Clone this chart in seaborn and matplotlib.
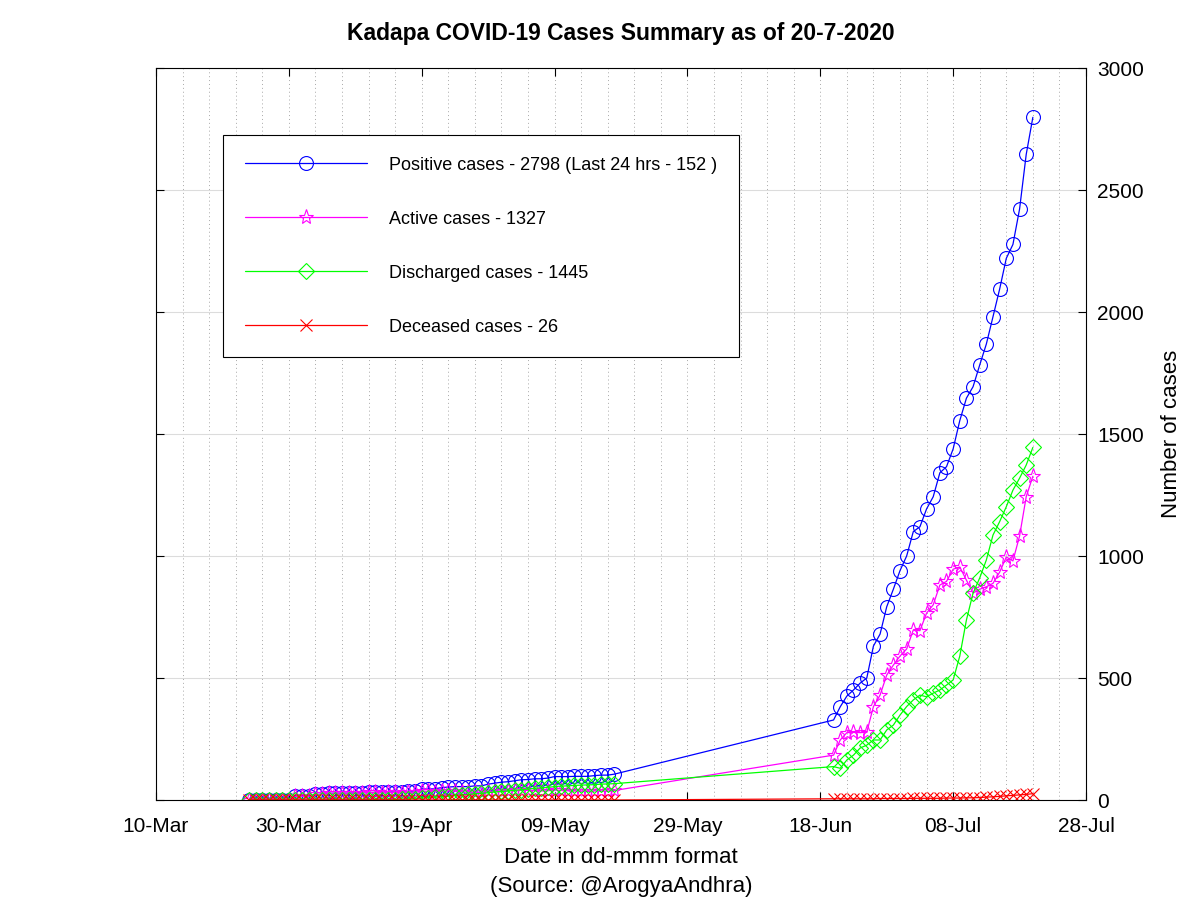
import matplotlib
matplotlib.use("Agg")
import matplotlib.pyplot as plt
import matplotlib.dates as mdates
import seaborn as sns
import pandas as pd
import numpy as np

# ---- data ----
dates_seg1 = pd.date_range("2020-03-24", "2020-05-18", freq="D")
dates_seg2 = pd.date_range("2020-06-20", "2020-07-20", freq="D")

positive_seg1 = [0, 0, 0, 0, 0, 0, 0,
                 15, 15, 15, 23, 23, 27, 28, 28, 28, 29,
                 30, 31, 31, 31, 33, 33, 33, 36, 37, 45,
                 45, 46, 51, 53, 55, 55, 55, 58, 58, 65, 69,
                 73, 75, 79, 83, 84, 87, 87, 90, 96, 96, 96, 97, 97, 97, 100, 102, 102, 106]
discharged_seg1 = [0, 0, 0, 0, 0, 0, 0,
                   0, 0, 0, 0, 0, 0, 0, 0, 0, 0,
                   0, 0, 0, 1, 1, 1, 3, 5, 6, 8,
                   10, 12, 14, 16, 19, 21, 23, 25, 27, 30, 33,
                   35, 37, 40, 42, 45, 48, 50, 52, 55, 57, 58, 60, 61, 62, 63, 65, 66, 67]
active_seg1 = [0, 0, 0, 0, 0, 0, 0,
               15, 15, 15, 23, 23, 27, 28, 28, 28, 29,
               30, 31, 31, 30, 32, 32, 30, 31, 31, 37,
               35, 34, 37, 37, 36, 34, 32, 33, 31, 35, 36,
               38, 38, 39, 41, 39, 39, 37, 38, 41, 39, 38, 37, 36, 35, 37, 37, 36, 39]
deceased_seg1 = [0] * 56

positive_seg2 = [328, 382, 426, 451, 479, 500, 631, 680, 792, 864, 940, 1000, 1100, 1120,
                 1193, 1243, 1341, 1366, 1439, 1555, 1647, 1694, 1783, 1869, 1981, 2094,
                 2220, 2277, 2422, 2646, 2798]
active_seg2 = [184, 246, 276, 278, 276, 278, 383, 430, 512, 553, 590, 619, 697, 694, 766,
               800, 881, 896, 946, 955, 901, 848, 864, 874, 888, 934, 996, 980, 1082, 1243, 1327]
discharged_seg2 = [137, 130, 164, 184, 213, 225, 246, 246, 287, 307, 348, 383, 410, 430, 423,
                   438, 451, 471, 492, 590, 738, 848, 910, 984, 1086, 1141, 1202, 1270, 1319,
                   1373, 1445]
deceased_seg2 = [5, 5, 5, 5, 5, 5, 5, 6, 6, 6, 6, 6, 7, 7, 7, 7, 7, 8, 8, 8, 9, 9, 10, 12,
                 13, 15, 17, 19, 21, 23, 26]

dates = list(dates_seg1) + list(dates_seg2)
positive = positive_seg1 + positive_seg2
active = active_seg1 + active_seg2
discharged = discharged_seg1 + discharged_seg2
deceased = deceased_seg1 + deceased_seg2

labels = ["Positive cases - 2798 (Last 24 hrs - 152 )",
          "Active cases - 1327",
          "Discharged cases - 1445",
          "Deceased cases - 26"]
title = "Kadapa COVID-19 Cases Summary as of 20-7-2020"

# ---- style ----
sns.set_style("white")
plt.rcParams["font.family"] = ["Liberation Sans", "DejaVu Sans"]
plt.rcParams["text.color"] = "black"
plt.rcParams["axes.labelcolor"] = "black"
plt.rcParams["xtick.color"] = "black"
plt.rcParams["ytick.color"] = "black"

fig = plt.figure(figsize=(12, 9), dpi=100)
ax = fig.add_axes([0.13, 0.1111, 0.775, 0.8133])

series = [
    (positive, "#0000ff", "o", 10, labels[0]),
    (active, "#ff00ff", "*", 11, labels[1]),
    (discharged, "#00ff00", "D", 8, labels[2]),
    (deceased, "#ff0000", "x", 9, labels[3]),
]
for vals, col, mk, ms, lab in series:
    sns.lineplot(x=dates, y=vals, ax=ax, color=col, marker=mk, markersize=ms,
                 markerfacecolor="none", markeredgecolor=col, markeredgewidth=0.8,
                 linewidth=0.9, label=lab)

ax.set_xlim(pd.Timestamp("2020-03-10"), pd.Timestamp("2020-07-28"))
ax.set_ylim(0, 3000)

major = pd.date_range("2020-03-10", "2020-07-28", freq="20D")
minor = pd.date_range("2020-03-10", "2020-07-28", freq="4D")
ax.set_xticks(major)
ax.set_xticks(minor, minor=True)
ax.xaxis.set_major_formatter(mdates.DateFormatter("%d-%b"))
ax.set_yticks(np.arange(0, 3001, 500))

ax.yaxis.tick_right()
ax.yaxis.set_label_position("right")
ax.tick_params(axis="both", which="major", direction="in", length=6, labelsize=15,
               top=True, bottom=True, left=True, right=True, labelleft=False, labelright=True)
ax.tick_params(axis="x", which="minor", length=0)
ax.tick_params(axis="x", which="major", pad=12)
ax.tick_params(axis="y", which="major", pad=8)

ax.grid(True, axis="x", which="both", linestyle=(0, (1, 3)), color="#a8a8a8", linewidth=0.7)
ax.grid(True, axis="y", which="major", linestyle="-", color="#dcdcdc", linewidth=0.8)
ax.set_axisbelow(True)

for sp in ax.spines.values():
    sp.set_visible(True)
    sp.set_color("black")
    sp.set_linewidth(0.8)

ax.set_xlabel("Date in dd-mmm format\n(Source: @ArogyaAndhra)", fontsize=16, labelpad=8,
              linespacing=1.5)
ax.set_ylabel("Number of cases", fontsize=16, labelpad=12)
ax.set_title(title, fontsize=16.5, fontweight="bold", pad=20)

leg = ax.legend(loc="upper left", bbox_to_anchor=(0.072, 0.9085), fontsize=13,
                handlelength=6.8, handletextpad=1.2, labelspacing=2.05,
                borderpad=1.2, borderaxespad=0, frameon=True, fancybox=False,
                edgecolor="black", framealpha=1)
leg.get_frame().set_linewidth(0.8)

fig.savefig("out.png", dpi=100)
